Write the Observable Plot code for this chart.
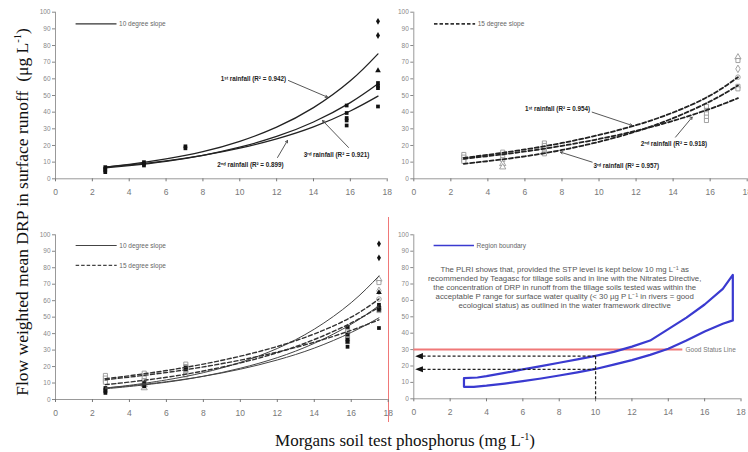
<!DOCTYPE html>
<html><head><meta charset="utf-8">
<script src="https://cdn.jsdelivr.net/npm/d3@7"></script>
<script src="https://cdn.jsdelivr.net/npm/@observablehq/plot@0.6"></script>
<style>
body{margin:0;background:#fff;}
#wrap{position:relative;width:748px;height:452px;overflow:hidden;background:#fff;}
.panel{position:absolute;}
.panel svg{overflow:visible;}
#ytitle{position:absolute;left:22px;top:212px;transform:translate(-50%,-50%) rotate(-90deg);white-space:nowrap;font-family:"Liberation Serif","Times New Roman",serif;font-size:17.5px;color:#111;}
#xtitle{position:absolute;left:405px;top:441px;transform:translate(-50%,-50%);white-space:nowrap;font-family:"Liberation Serif","Times New Roman",serif;font-size:17px;color:#111;}
sup{font-size:0.6em;vertical-align:0.6em;line-height:0;}
#divider{position:absolute;left:387.5px;top:217px;width:1.5px;height:205px;background:#f07878;}
</style>
</head><body>
<div id="wrap">
  <div id="ytitle">Flow weighted mean DRP in surface runoff&nbsp; (μg L<sup>-1</sup>)</div>
  <div id="xtitle">Morgans soil test phosphorus (mg L<sup>-1</sup>)</div>
  <div id="divider"></div>
</div>
<script>
// ---- data ----
const xTicks = [0, 2, 4, 6, 8, 10, 12, 14, 16, 18];
const yTicks = [0, 10, 20, 30, 40, 50, 60, 70, 80, 90, 100];

// fitted trend lines
const fitX   = [2.7, 4, 6, 8, 10, 12, 14, 16, 17.5];
const s10_r1 = [7, 8.6, 11.9, 16.3, 22.5, 31, 42.7, 58.8, 75];
const s10_r2 = [7, 8.3, 10.8, 14.1, 18.4, 24.0, 31.2, 40.7, 49.6];
const s10_r3 = [6.5, 7.9, 10.5, 14.1, 19.0, 25.4, 34.1, 45.7, 57];
const s15_r1 = [12.6, 14.4, 17.6, 21.5, 26.3, 32.2, 39.8, 50, 61];
const s15_r2 = [12, 13.6, 16.4, 19.8, 23.9, 28.8, 34.8, 42.0, 48.4];
const s15_r3 = [9, 10.6, 13.5, 17.3, 22.2, 28.4, 36.4, 46.5, 56];

// observations: [STP, DRP, marker]
const pts10 = [
  [2.7,7,"square"],[2.7,6,"square"],[2.7,5,"square"],[2.7,4,"square"],
  [4.8,10,"square"],[4.8,9,"square"],[4.8,8,"square"],
  [7.05,19.5,"square"],[7.05,18.3,"square"],
  [15.8,44,"square"],[15.8,39.5,"square"],[15.8,36.5,"square"],[15.8,35,"square"],[15.8,32,"square"],
  [17.5,94.5,"diamond"],[17.5,86,"diamond"],[17.5,65,"triangle"],[17.5,57.5,"square"],
  [17.5,55.8,"square"],[17.5,54.4,"square"],[17.5,43.4,"square"]
];
const pts15 = [
  [2.7,14.6,"square"],[2.7,13,"square"],[2.7,11.5,"square"],[2.7,10.5,"square"],
  [4.8,16,"square"],[4.8,13,"square"],[4.8,11.5,"square"],[4.8,9,"triangle"],[4.8,7,"triangle"],
  [7.05,21.5,"square"],[7.05,20,"square"],[7.05,18,"square"],[7.05,16,"square"],[7.05,15,"square"],
  [15.8,43.5,"square"],[15.8,41,"square"],[15.8,39,"square"],[15.8,37,"square"],[15.8,35,"square"],
  [17.5,73,"triangle"],[17.5,71,"square"],[17.5,66,"diamond"],[17.5,61,"circle"],
  [17.5,55.5,"square"],[17.5,54,"square"]
];

// trend-line labels
const labels10 = ["1ˢᵗ rainfall (R² = 0.942)", "2ⁿᵈ rainfall (R² = 0.899)", "3ʳᵈ rainfall (R² = 0.921)"];
const labels15 = ["1ˢᵗ rainfall (R² = 0.954)", "2ⁿᵈ rainfall (R² = 0.918)", "3ʳᵈ rainfall (R² = 0.957)"];

// region boundary (panel 4)
const regionUpper = [[2.76,7.3],[2.76,12.6],[3.5,13],[4,13.8],[5,15.8],[6,17.9],[7,19.9],[8,22],[9,24],[10,26.2],[11,28.6],[12,31.8],[13,35.5],[14,42.5],[15,49.5],[16,57.5],[17,67],[17.55,75.5]];
const regionLower = [[17.55,47.8],[17,45.8],[16,41],[15,35.5],[14,30.5],[13,26.8],[12,23.6],[11,20.8],[10,18.2],[9,16.1],[8,14.2],[7,12.4],[6,10.8],[5,9.3],[4,8],[3.3,7.3],[2.76,7.3]];
const goodStatus = 30;
const stpTarget = 10;
const drpAtTarget = [26, 18];
const noteLines = [
  "The PLRI shows that, provided the STP level is kept below 10 mg L⁻¹ as",
  "recommended by Teagasc for tillage soils and in line with the Nitrates Directive,",
  "the concentration of DRP in runoff from the tillage soils tested was within the",
  "acceptable P range for surface water quality (< 30 µg P L⁻¹ in rivers = good",
  "ecological status) as outlined in the water framework directive"
];

// ---- helpers ----
const rows = (xs, ys) => xs.map((x, i) => ({x, y: ys[i]}));
const ptRows = a => a.map(([x, y, s]) => ({x, y, s}));
const FONT = "Liberation Sans, Arial, sans-serif";
const leftTri = {draw(ctx, size) { const s = Math.sqrt(size) / 1.3; ctx.moveTo(-s, 0); ctx.lineTo(s * 0.9, -s * 0.75); ctx.lineTo(s * 0.9, s * 0.75); ctx.closePath(); }};

function axes() {
  return [
    Plot.ruleY([0], {x1: 0, x2: 18, stroke: "#999", strokeWidth: 1}),
    Plot.ruleX([0], {y1: 0, y2: 100, stroke: "#999", strokeWidth: 1}),
    Plot.axisY({ticks: yTicks, tickSize: 3, tickPadding: 2, fontSize: 6.5, color: "#888", label: null}),
    Plot.axisX({ticks: xTicks, tickSize: 3, tickPadding: 7, fontSize: 8.5, color: "#777", label: null})
  ];
}
function solidCurves(w, c) {
  return [s10_r1, s10_r2, s10_r3].map(s => Plot.line(rows(fitX, s), {x: "x", y: "y", curve: "natural", stroke: c, strokeWidth: w}));
}
function dashedCurves(w, c) {
  return [s15_r1, s15_r2, s15_r3].map(s => Plot.line(rows(fitX, s), {x: "x", y: "y", curve: "natural", stroke: c, strokeWidth: w, strokeDasharray: "4,2.5"}));
}
function filledPts() {
  return Plot.dot(ptRows(pts10), {x: "x", y: "y", symbol: "s", r: 2.1, fill: "#111", stroke: "none"});
}
function openPts() {
  return Plot.dot(ptRows(pts15), {x: "x", y: "y", symbol: "s", r: 2.3, fill: "white", stroke: "#999", strokeWidth: 0.9});
}
function legendLine(y, dashed, text, color = "#333", w = 1.3) {
  return [
    Plot.link([{x1: 1.09, x2: 3.31, y}], {x1: "x1", x2: "x2", y1: "y", y2: "y", stroke: color, strokeWidth: w, strokeDasharray: dashed ? "3.5,2" : null}),
    Plot.text([{x: 3.45, y, t: text}], {x: "x", y: "y", text: "t", textAnchor: "start", fontSize: 6.5, fill: "#666"})
  ];
}
function annot(texts, pos, arrows) {
  return [
    Plot.text(texts.map((t, i) => ({t, x: pos[i][0], y: pos[i][1]})), {x: "x", y: "y", text: "t", fontSize: 6.3, fontWeight: "bold", fill: "#222"}),
    Plot.arrow(arrows.map(a => ({x1: a[0], y1: a[1], x2: a[2], y2: a[3]})), {x1: "x1", y1: "y1", x2: "x2", y2: "y2", stroke: "#444", strokeWidth: 0.9, headLength: 4})
  ];
}

function panel({left, top, width, height, ml, mr, mt, mb, marks}) {
  const svg = Plot.plot({
    width, height, marginLeft: ml, marginRight: mr, marginTop: mt, marginBottom: mb,
    x: {domain: [0, 18]}, y: {domain: [0, 100]},
    style: {fontFamily: FONT, background: "transparent", overflow: "visible"},
    marks: [...axes(), ...marks]
  });
  const d = document.createElement("div");
  d.className = "panel";
  d.style.left = left + "px"; d.style.top = top + "px";
  d.appendChild(svg);
  document.getElementById("wrap").appendChild(d);
}

// Panel 1: 10 degree slope
panel({left: 0, top: 0, width: 390, height: 200, ml: 55, mr: 3.3, mt: 11.7, mb: 21.7, marks: [
  ...solidCurves(1.3, "#222"),
  filledPts(),
  ...legendLine(93, false, "10 degree slope"),
  ...annot(labels10, [[10.74, 60], [10.58, 8.6], [15.25, 14.6]],
    [[12.64, 59, 14.76, 49], [12.05, 12.8, 12.59, 23], [15.9, 18.8, 14.49, 35]])
]});

// Panel 2: 15 degree slope
panel({left: 393, top: 0, width: 355, height: 200, ml: 20.3, mr: 1.3, mt: 11.7, mb: 21.7, marks: [
  openPts(),
  ...dashedCurves(1.8, "#222"),
  ...legendLine(93, true, "15 degree slope", "#333", 1.6),
  ...annot(labels15, [[7.76, 42], [14.04, 21], [11.47, 8]],
    [[9.63, 40, 11.79, 32], [14.13, 25, 15.03, 37], [9.63, 10, 7.92, 16]])
]});

// Panel 3: both slopes
panel({left: 0, top: 220, width: 390, height: 200, ml: 55, mr: 2.3, mt: 14.3, mb: 21, marks: [
  openPts(),
  filledPts(),
  ...solidCurves(1, "#444"),
  ...dashedCurves(1.4, "#333"),
  ...legendLine(93.5, false, "10 degree slope", "#444", 1),
  ...legendLine(81.4, true, "15 degree slope", "#444", 1.3)
]});

// Panel 4: region boundary
panel({left: 393, top: 220, width: 355, height: 200, ml: 20.3, mr: 7.5, mt: 14.3, mb: 21.7, marks: [
  Plot.ruleY([goodStatus], {x1: 0, x2: 14.8, stroke: "#f07878", strokeWidth: 2}),
  Plot.text([{x: 14.95, y: goodStatus, t: "Good Status Line"}], {x: "x", y: "y", text: "t", textAnchor: "start", fontSize: 6.5, fill: "#777"}),
  Plot.line([...regionUpper, ...regionLower].map(([x, y]) => ({x, y})), {x: "x", y: "y", stroke: "#3a3ad0", strokeWidth: 2.2, strokeLinejoin: "round"}),
  Plot.link(drpAtTarget.map(v => ({x1: stpTarget, x2: 0.4, y: v})), {x1: "x1", x2: "x2", y1: "y", y2: "y", stroke: "#222", strokeWidth: 1.2, strokeDasharray: "3,2"}),
  Plot.link([{x: stpTarget, y1: drpAtTarget[0], y2: 0}], {x1: "x", x2: "x", y1: "y1", y2: "y2", stroke: "#222", strokeWidth: 1.2, strokeDasharray: "3,2"}),
  Plot.dot(drpAtTarget.map(v => ({x: 0.3, y: v})), {x: "x", y: "y", symbol: leftTri, r: 3, fill: "#111", stroke: "none"}),
  ...legendLine(93.5, false, "Region boundary", "#3a3ad0", 1.6),
  Plot.text([{x: 8.3, y: 67.9, t: noteLines.join("\n")}], {x: "x", y: "y", text: "t", fontSize: 7.8, lineHeight: 1.16, lineAnchor: "middle", fill: "#555"})
]});
</script>
</body></html>
